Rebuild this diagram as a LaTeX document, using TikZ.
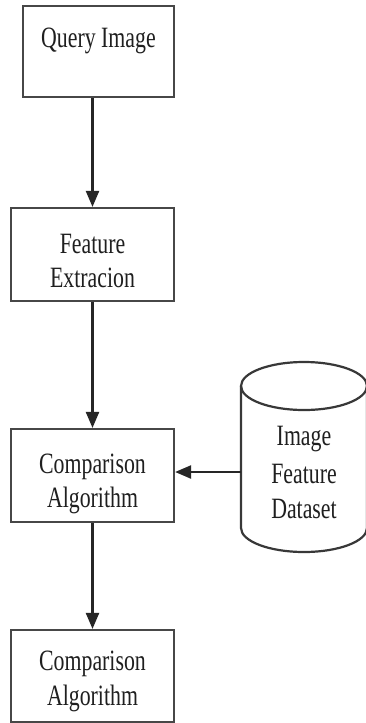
\documentclass[tikz,border=0pt]{standalone}
\usepackage{fontspec}
\setmainfont{Liberation Serif}
\newfontfamily\condserif[FakeStretch=0.74]{Liberation Serif}
\usetikzlibrary{arrows.meta}
\begin{document}
\begin{tikzpicture}[x=1pt,y=-1pt,
  box/.style={draw=black!72, line width=2.2pt, fill=white, inner sep=0pt},
  lbl/.style={anchor=base, inner sep=0pt, text=black!88,
    font=\condserif\fontsize{29.5}{35}\selectfont},
  flow/.style={draw=black!85, line width=2.3pt,
    -{Triangle[length=16pt,width=13pt]}}]
  \useasboundingbox (0,0) rectangle (365,723);
  \fill[white] (0,0) rectangle (365,723);

  % process boxes
  \node[box, minimum width=151pt, minimum height=91pt] (q)  at (98.5,51.5) {};
  \node[box, minimum width=163pt, minimum height=93pt] (fe) at (92.5,254.5) {};
  \node[box, minimum width=163pt, minimum height=93pt] (ca) at (92.5,475.5) {};
  \node[box, minimum width=163pt, minimum height=92pt] (cb) at (92.5,676) {};

  % box labels
  \node[lbl] (tq)  at (98.5,47)  {Query Image};
  \node[lbl] (tf1) at (92.5,253) {Feature};
  \node[lbl] (tf2) at (92.5,287) {Extracion};
  \node[lbl] (ta1) at (92.5,473) {Comparison};
  \node[lbl] (ta2) at (92.5,507) {Algorithm};
  \node[lbl] (tb1) at (92.5,670) {Comparison};
  \node[lbl] (tb2) at (92.5,705) {Algorithm};

  % database cylinder
  \draw[black!78, line width=2.2pt, fill=white]
    (241,386) -- (241,528) arc[start angle=180, end angle=0, x radius=63, y radius=24]
    -- (367,386);
  \draw[black!78, line width=2.2pt] (304,386) ellipse[x radius=63, y radius=24];
  \coordinate (dbw) at (241,472);
  \node[lbl] (td1) at (304,445) {Image};
  \node[lbl] (td2) at (304,483) {Feature};
  \node[lbl] (td3) at (304,518) {Dataset};

  % connectors
  \draw[flow] (q.south -| fe.north) -- (fe.north);
  \draw[flow] (fe.south) -- (ca.north);
  \draw[flow] (dbw) -- (ca.east |- dbw);
  \draw[flow] (ca.south) -- (cb.north);
\end{tikzpicture}
\end{document}
